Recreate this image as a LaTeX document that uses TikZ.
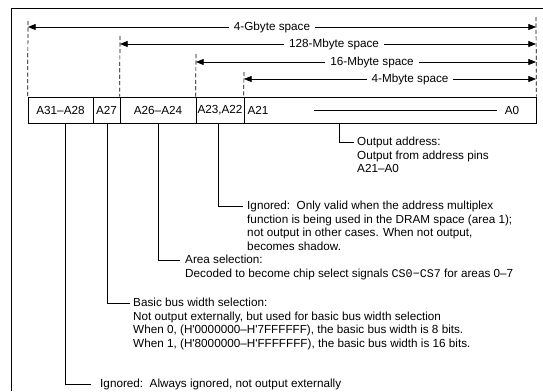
\documentclass[tikz,border=0pt]{standalone}
\usepackage{fontspec}
\setmainfont{Liberation Sans}
\setmonofont{Liberation Mono}
\usepackage{tikz}
\usetikzlibrary{arrows.meta,positioning}
\newcommand{\upx}{0.03cm}
\tikzset{
  ln/.style={line width=0.6pt,black},
  ar/.style={-{Triangle[length=2.3mm,width=1.8mm]},line width=0.6pt},
  dsh/.style={line width=0.6pt,dash pattern=on 3.5pt off 2pt},
  cell/.style={draw,line width=0.6pt,minimum height={26*\upx},inner sep=0pt,font=\fontsize{10}{11.6}\selectfont},
  sp/.style={fill=white,inner sep=4pt,font=\fontsize{10}{11.6}\selectfont},
  txt/.style={inner sep=0pt,font=\fontsize{10}{11.6}\selectfont},
  note/.style={anchor=north west,align=left,inner sep=0pt,font=\fontsize{10}{11.6}\selectfont}
}

\begin{document}
\begin{tikzpicture}[x=0.03cm,y=-0.03cm]
\useasboundingbox (0,0) rectangle (543,391);
% frame
\draw[ln] (11,391) -- (11,8) -- (543,8);
% address bits
\node[cell,minimum width={65*\upx}] (c1) at (60.5,110) {A31--A28};
\node[cell,minimum width={27*\upx}] (c2) at (106.5,110) {A27};
\node[cell,minimum width={76*\upx}] (c3) at (158,110) {A26--A24};
\node[cell,minimum width={48*\upx}] (c4) at (220,110) {A23,A22};
\node[cell,minimum width={292*\upx}] (c5) at (390,110) {};
\node[txt] (a21) at (258,110) {A21};
\node[txt] (a0) at (512,110) {A0};
\draw[ln,shorten <=1.35cm,shorten >=0.24cm] (a21) -- (a0);
% space limits
\coordinate (t1) at (28,21);
\coordinate (t2) at (120,36);
\coordinate (t3) at (196,54);
\coordinate (t4) at (244,72);
\coordinate (t5) at (536,17);
\draw[dsh] (t1) -- (c1.north west);
\draw[dsh] (t2) -- (c3.north west);
\draw[dsh] (t3) -- (c4.north west);
\draw[dsh] (t4) -- (c5.north west);
\draw[dsh] (t5) -- (c5.north east);
\node[sp] (s4g) at (272,27) {4-Gbyte space};
\node[sp] (s128m) at (334,44) {128-Mbyte space};
\node[sp] (s16m) at (372,62) {16-Mbyte space};
\node[sp] (s4m) at (410,79) {4-Mbyte space};
\draw[ar] (s4g) -- (s4g -| t1);
\draw[ar] (s4g) -- (s4g -| t5);
\draw[ar] (s128m) -- (s128m -| t2);
\draw[ar] (s128m) -- (s128m -| t5);
\draw[ar] (s16m) -- (s16m -| t3);
\draw[ar] (s16m) -- (s16m -| t5);
\draw[ar] (s4m) -- (s4m -| t4);
\draw[ar] (s4m) -- (s4m -| t5);
% callouts
\coordinate (k1) at (65,384);  \coordinate (e1) at (91,384);
\coordinate (k2) at (107,303); \coordinate (e2) at (130,303);
\coordinate (k3) at (158,260); \coordinate (e3) at (180,260);
\coordinate (k4) at (218,206); \coordinate (e4) at (243,206);
\coordinate (k5) at (339,142); \coordinate (e5) at (354,142);
\draw[ln] (c1.south -| k1) -- (k1) -- (e1);
\draw[ln] (c2.south -| k2) -- (k2) -- (e2);
\draw[ln] (c3.south -| k3) -- (k3) -- (e3);
\draw[ln] (c4.south -| k4) -- (k4) -- (e4);
\draw[ln] (c5.south -| k5) -- (k5) -- (e5);
\node[note] (n1) at (100,379) {Ignored:\ \ Always ignored, not output externally};
\node[note] (n2) at (133,298) {Basic bus width selection:\\
  Not output externally, but used for basic bus width selection\\
  When 0, (H\textquotesingle0000000--H\textquotesingle7FFFFFF), the basic bus width is 8 bits.\\
  When 1, (H\textquotesingle8000000--H\textquotesingle FFFFFFF), the basic bus width is 16 bits.};
\node[note] (n3) at (185,255) {Area selection:\\
  Decoded to become chip select signals \texttt{CS0−CS7} for areas 0--7};
\node[note] (n4) at (247,201) {Ignored:\ \ Only valid when the address multiplex\\
  function is being used in the DRAM space (area 1);\\
  not output in other cases. When not output,\\
  becomes shadow.};
\node[note] (n5) at (357,137) {Output address:\\
  Output from address pins\\
  A21--A0};
\end{tikzpicture}
\end{document}
